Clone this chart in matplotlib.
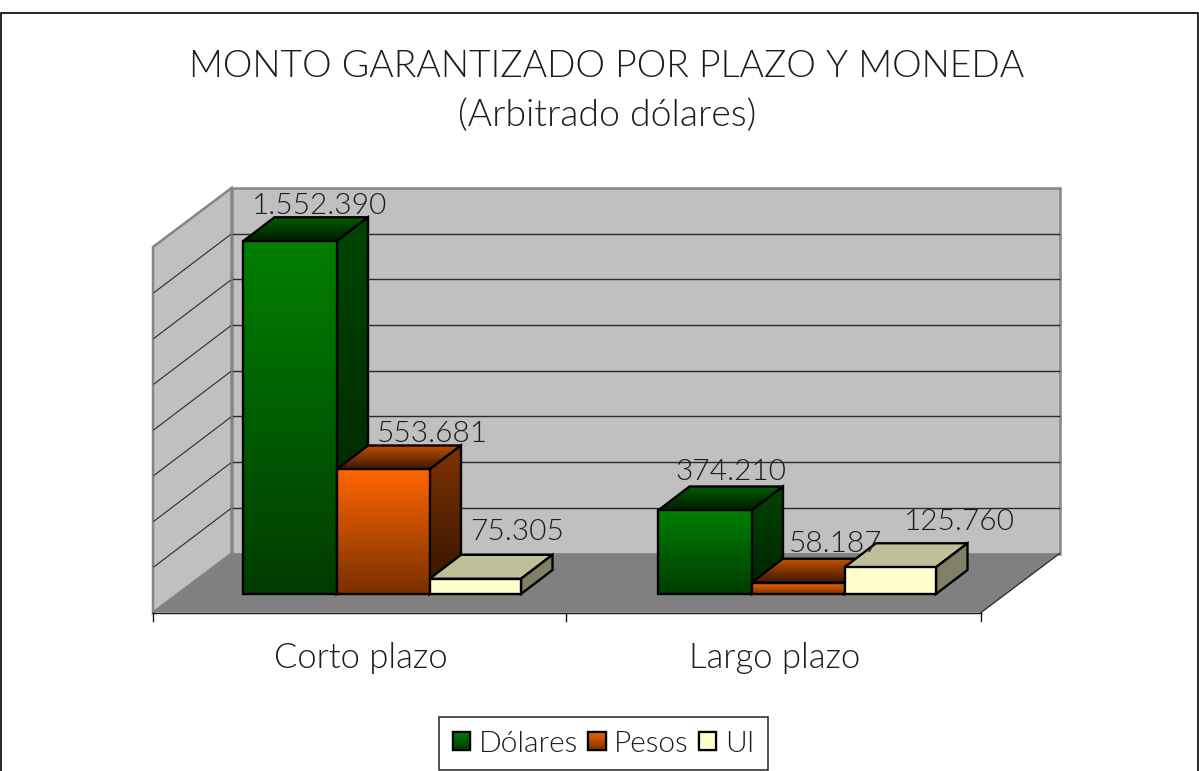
import numpy as np
import matplotlib
matplotlib.use("Agg")
import matplotlib.pyplot as plt
from matplotlib.patches import Polygon, Rectangle, Patch
from matplotlib.colors import LinearSegmentedColormap

# --- data ---
categories = ["Corto plazo", "Largo plazo"]
series_names = ["Dólares", "Pesos", "UI"]
dolares = [1552390, 374210]
pesos = [553681, 58187]
ui = [75305, 125760]
title_lines = ["MONTO GARANTIZADO POR PLAZO Y MONEDA", "(Arbitrado dólares)"]

# --- layout (pixels) ---
W, H = 1199, 771
FONT = "Lato"
WEIGHT = 300
TXT = "#1c1c1c"
wall_l, wall_r, wall_t, wall_b = 231.5, 1059.5, 188, 553.5
floor_l, floor_r, floor_y = 153, 981, 612.5
ddx, ddy = 31.5, -24
bar_base, zero_y = 594, 596
px_per_unit = 45.7 / 200000
group_x = [243, 658]
bar_w = [93.5, 93, 91.5]
grid_vals = [200000 * i for i in range(1, 8)]
label_pos = [[(320, 213.5), (432.5, 441.5), (517.5, 540.5)],
             [(730.5, 480.5), (836, 552), (959, 530.5)]]

front_cols = [("#008000", "#003c00"), ("#ff6600", "#7a3000"), ("#ffffcc", "#ffffcc")]
top_cols = [("#005c00", "#001c00"), ("#c25000", "#3c1800"), ("#bfbf99", "#bfbf99")]
side_cols = [("#004600", "#002000"), ("#803300", "#321400"), ("#808066", "#808066")]


def val_y(v):
    return zero_y - v * px_per_unit


def gradient(ax, pts, c1, c2, z):
    """Fill polygon pts with vertical gradient c1 (top) to c2 (bottom)."""
    pts = np.asarray(pts, float)
    x0, x1, y0, y1 = pts[:, 0].min(), pts[:, 0].max(), pts[:, 1].min(), pts[:, 1].max()
    cmap = LinearSegmentedColormap.from_list("g", [c1, c2])
    im = ax.imshow(np.linspace(0, 1, 128)[:, None], cmap=cmap, aspect="auto",
                   extent=(x0, x1, y1, y0), zorder=z, interpolation="bilinear")
    im.set_clip_path(Polygon(pts, closed=True, transform=ax.transData))
    ax.add_patch(Polygon(pts, closed=True, fill=False, ec="#000000", lw=1.7,
                         joinstyle="miter", zorder=z + 0.1))


plt.rcParams["font.family"] = [FONT, "DejaVu Sans"]
fig = plt.figure(figsize=(W / 100, H / 100), dpi=100)
ax = fig.add_axes([0, 0, 1, 1])
ax.set_axis_off()

# outer chart border
ax.add_patch(Rectangle((0.5, 12.5), W - 1.5, H + 20, fc="white", ec="black", lw=1.2, zorder=0))

# walls and floor
rise = floor_y - wall_b
ax.add_patch(Polygon([(wall_l, wall_t), (wall_r, wall_t), (wall_r, wall_b), (wall_l, wall_b)],
                     fc="#c0c0c0", ec="#858585", lw=1.8, zorder=1))
ax.add_patch(Polygon([(floor_l, wall_t + rise), (wall_l, wall_t), (wall_l, wall_b), (floor_l, floor_y)],
                     fc="#c0c0c0", ec="#858585", lw=1.8, zorder=1))
ax.add_patch(Polygon([(floor_l, floor_y), (wall_l, wall_b), (wall_r, wall_b), (floor_r, floor_y)],
                     fc="#808080", ec="none", zorder=1.2))
ax.plot([floor_r, wall_r], [floor_y, wall_b], color="#333333", lw=1, zorder=1.3)

# gridlines
for g in grid_vals:
    y = wall_b - g * px_per_unit
    ax.plot([wall_l + 1, wall_r - 1], [y, y], color="#2a2a2a", lw=1, zorder=1.5)
    ax.plot([floor_l + 1, wall_l - 1], [y + rise, y + 1], color="#2a2a2a", lw=0.8, zorder=1.5)

# category axis
ax.plot([floor_l, floor_r], [floor_y + 0.5, floor_y + 0.5], color="#111111", lw=1, zorder=1.6)
for tx in [floor_l, (floor_l + floor_r) / 2 - 0.7, floor_r]:
    ax.plot([tx, tx], [floor_y, floor_y + 8], color="#111111", lw=1, zorder=1.6)
for k, cat in enumerate(categories):
    cx = floor_l + (floor_r - floor_l) * (k + 0.5) / 2 + 0.5
    ax.text(cx, 668, cat, ha="center", va="baseline", fontsize=24.9, weight=WEIGHT, color=TXT, zorder=20)

# 3D bars
z = 3
series = [dolares, pesos, ui]
for g in range(len(categories)):
    x = group_x[g]
    for s in range(3):
        v = series[s][g]
        xl, xr = x, x + bar_w[s]
        yt = val_y(v)
        gradient(ax, [(xl + ddx, yt + ddy), (xr + ddx, yt + ddy), (xr, yt), (xl, yt)], *top_cols[s], z)
        gradient(ax, [(xr, yt), (xr + ddx, yt + ddy), (xr + ddx, bar_base + ddy), (xr, bar_base)], *side_cols[s], z + 1)
        gradient(ax, [(xl, yt), (xr, yt), (xr, bar_base), (xl, bar_base)], *front_cols[s], z + 2)
        z += 3
        x = xr

# data labels
for g in range(len(categories)):
    for s in range(3):
        lx, ly = label_pos[g][s]
        ax.text(lx, ly, f"{series[s][g]:,}".replace(",", "."), ha="center", va="baseline",
                fontsize=21.5, weight=WEIGHT, color=TXT, zorder=60)

# title
ax.text(607, 77, title_lines[0], ha="center", va="baseline", fontsize=26.9, weight=WEIGHT, color=TXT, zorder=60)
ax.text(607, 126, title_lines[1], ha="center", va="baseline", fontsize=26.9, weight=WEIGHT, color=TXT, zorder=60)

ax.set_xlim(0, W)
ax.set_ylim(H, 0)

# legend
handles = [Patch(fc=front_cols[i][0], ec="black", lw=1.6, label=series_names[i]) for i in range(3)]
leg = ax.legend(handles=handles, ncol=3, loc="lower center", bbox_to_anchor=(603.5 / W, 1 / H),
                fontsize=21.5, frameon=True, fancybox=False, edgecolor="#222222",
                framealpha=1, handlelength=0.58, handleheight=0.58, handletextpad=0.28, columnspacing=0.35,
                borderpad=0.45, borderaxespad=0)
leg.get_frame().set_linewidth(1.1)
for t in leg.get_texts():
    t.set_fontweight(WEIGHT)
    t.set_color(TXT)

fig.canvas.draw()
inv = ax.transData.inverted()
for i, h in enumerate(leg.legend_handles):
    bb = h.get_window_extent()
    (a0, b0), (a1, b1) = inv.transform([(bb.x0, bb.y0), (bb.x1, bb.y1)])
    yt, yb = sorted((b0, b1))
    pts = [(a0, yt), (a1, yt), (a1, yb), (a0, yb)]
    cmap = LinearSegmentedColormap.from_list("k", list(front_cols[i]))
    ax.imshow(np.linspace(0, 1, 32)[:, None], cmap=cmap, aspect="auto", extent=(a0, a1, yb, yt), zorder=80)
    ax.add_patch(Polygon(pts, closed=True, fill=False, ec="black", lw=1.6, zorder=81))
ax.set_xlim(0, W)
ax.set_ylim(H, 0)

fig.savefig("out.png", dpi=100)
